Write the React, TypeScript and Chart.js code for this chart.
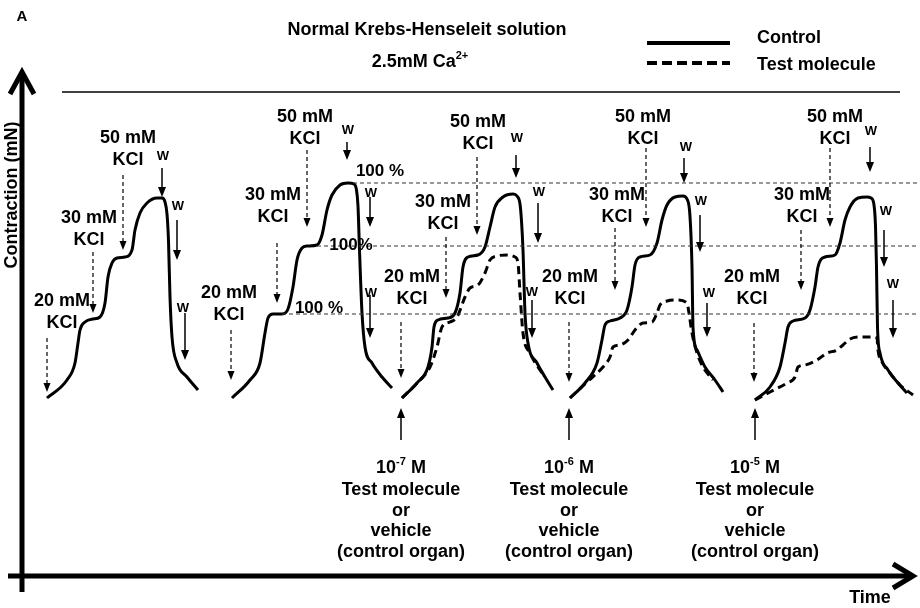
import React, { useEffect, useRef } from "react";
import { Chart, registerables } from "chart.js";

Chart.register(...registerables);

type P = [number, number];

// Time (x) vs contraction (y), schematic units; origin at axes crossing
const control1: P[] = [[25,178],[45,196],[53,213],[56,233],[58,246],[63,254],[71,257],[78,259],[83,273],[86,299],[90,313],[95,318],[103,319],[110,326],[113,346],[118,363],[125,373],[135,378],[140,378],[143,374],[145,362],[146.5,335],[148,279],[150,239],[155,213],[165,199],[176,186]];
const control2: P[] = [[210,178],[228,196],[238,213],[243,243],[246,258],[251,262],[260,262],[266,267],[271,289],[275,316],[280,328],[285,330],[295,331],[300,341],[305,366],[310,381],[318,391],[326,393],[332,392],[334.5,386],[336,370],[337.5,326],[340,263],[343,229],[350,213],[360,199],[370,188]];
const control3: P[] = [[380,178],[395,193],[406,209],[410,229],[412,249],[416,256],[426,258],[433,263],[438,283],[441,309],[446,319],[456,321],[463,329],[468,349],[473,369],[481,379],[491,382],[495,380],[498,372],[499.5,355],[501,326],[503,263],[506,233],[515,213],[523,199],[531,186]];
const test3: P[] = [[380,178],[395,193],[408,209],[415,229],[420,249],[428,254],[435,259],[443,279],[448,288],[456,291],[463,303],[468,316],[475,320],[485,321],[493,319],[496,313],[498,283],[501,243],[508,223],[516,209],[523,199]];
const control4: P[] = [[548,178],[563,193],[575,213],[580,236],[583,251],[588,255],[598,258],[605,266],[610,289],[613,311],[618,319],[628,321],[635,333],[640,356],[645,371],[653,379],[661,380],[665,377],[667.5,366],[669,340],[670,309],[671,249],[675,226],[683,209],[693,196],[701,184]];
const test4: P[] = [[548,178],[565,194],[581,209],[588,219],[591,229],[598,231],[606,236],[613,246],[621,253],[630,254],[635,263],[638,271],[645,275],[655,276],[665,273],[667,263],[670,243],[675,223],[681,209],[691,196]];
const control5: P[] = [[733,176],[748,189],[758,209],[763,233],[766,249],[771,255],[783,258],[788,266],[793,289],[796,309],[803,319],[813,321],[818,333],[823,356],[828,369],[836,378],[845,379],[849,378],[852,371],[853.5,350],[854.5,309],[855.5,249],[858,223],[866,206],[876,193],[885,183]];
const test5: P[] = [[733,176],[748,184],[765,193],[773,199],[776,209],[783,211],[795,216],[805,223],[815,226],[821,231],[828,237],[838,239],[850,239],[855,238],[856,226],[860,214],[868,203],[878,191],[891,181]];

const controlSeries = [control1, control2, control3, control4, control5];
const testSeries = [test3, test4, test5];

// 100 % reference levels (from the second control trace)
const refLevels = [393, 330, 262];
const refStarts = [331, 295, 260];
const refEnd = 896;
const refLabels = ["100 %", "100%", "100 %"];
const refLabelX = [358, 329, 297];
const refLabelY = [405, 331, 268];

// KCl additions: concentration, label position, arrow x / from / to
const kclConc = ["20 mM", "30 mM", "50 mM"];
const kclLabelX = [[40, 67, 106], [207, 251, 283], [390, 421, 456], [548, 595, 621], [730, 780, 813]];
const kclLabelY = [[275, 358, 438], [283, 381, 459], [299, 374, 454], [299, 381, 459], [299, 381, 459]];
const kclArrowX = [[25, 71, 101], [209, 255, 285], [379, 424, 455], [547, 593, 624], [732, 779, 808]];
const kclArrowFrom = [[238, 324, 401], [246, 333, 426], [254, 339, 419], [254, 348, 428], [253, 346, 428]];
const kclArrowTo = [[184, 263, 326], [196, 273, 349], [198, 278, 341], [194, 286, 349], [194, 286, 349]];

// Washout (W) marks
const wLabelX = [[141, 156, 161], [326, 349, 349], [495, 517, 510], [664, 679, 687], [849, 864, 871]];
const wLabelY = [[420, 370, 268], [446, 383, 283], [438, 384, 284], [429, 375, 283], [445, 365, 292]];
const wArrowX = [[140, 155, 163], [325, 348, 348], [494, 516, 510], [662, 678, 685], [848, 862, 871]];
const wArrowFrom = [[408, 356, 263], [434, 379, 281], [421, 373, 276], [418, 361, 273], [429, 346, 276]];
const wArrowTo = [[379, 316, 216], [416, 349, 238], [398, 333, 238], [393, 324, 239], [404, 309, 238]];

// Test molecule additions
const doseExp = ["-7", "-6", "-5"];
const doseX = [379, 547, 733];
const doseArrowFrom = 136;
const doseArrowTo = 168;
const doseLines = ["Test molecule", "or", "vehicle", "(control organ)"];
const doseLineY = [108, 86, 65, 45, 24];

const FONT = "'Liberation Sans', Arial, Helvetica, sans-serif";

function vArrow(ctx: CanvasRenderingContext2D, x: number, y1: number, y2: number, dashed: boolean, lw: number, hw: number, hl: number) {
  const dir = Math.sign(y2 - y1);
  ctx.save();
  ctx.strokeStyle = "#000";
  ctx.fillStyle = "#000";
  ctx.lineWidth = lw;
  if (dashed) ctx.setLineDash([4, 3]);
  ctx.beginPath();
  ctx.moveTo(x, y1);
  ctx.lineTo(x, y2 - dir * hl);
  ctx.stroke();
  ctx.setLineDash([]);
  ctx.beginPath();
  ctx.moveTo(x, y2);
  ctx.lineTo(x - hw / 2, y2 - dir * hl);
  ctx.lineTo(x + hw / 2, y2 - dir * hl);
  ctx.closePath();
  ctx.fill();
  ctx.restore();
}

type Seg = { t: string; sup?: boolean };

function richText(ctx: CanvasRenderingContext2D, segs: Seg[], cx: number, cy: number, size: number) {
  const big = `bold ${size}px ${FONT}`;
  const small = `bold ${Math.round(size * 0.6)}px ${FONT}`;
  let total = 0;
  const widths = segs.map((s) => {
    ctx.font = s.sup ? small : big;
    const w = ctx.measureText(s.t).width;
    total += w;
    return w;
  });
  let x = cx - total / 2;
  ctx.textAlign = "left";
  ctx.textBaseline = "middle";
  segs.forEach((s, i) => {
    ctx.font = s.sup ? small : big;
    ctx.fillText(s.t, x, s.sup ? cy - size * 0.35 : cy);
    x += widths[i];
  });
}

function text(ctx: CanvasRenderingContext2D, t: string, x: number, y: number, size: number, align: CanvasTextAlign = "center") {
  ctx.font = `bold ${size}px ${FONT}`;
  ctx.textAlign = align;
  ctx.textBaseline = "middle";
  ctx.fillText(t, x, y);
}

const overlay = {
  id: "overlay",
  afterDatasetsDraw(chart: any) {
    const ctx: CanvasRenderingContext2D = chart.ctx;
    const X = (v: number) => chart.scales.x.getPixelForValue(v);
    const Y = (v: number) => chart.scales.y.getPixelForValue(v);
    ctx.save();
    ctx.fillStyle = "#000";
    ctx.strokeStyle = "#000";

    // axes with open arrowheads
    ctx.lineWidth = 5;
    ctx.lineJoin = "miter";
    ctx.beginPath();
    ctx.moveTo(X(0), Y(-16));
    ctx.lineTo(X(0), Y(504));
    ctx.stroke();
    ctx.beginPath();
    ctx.moveTo(X(0) - 12, Y(506) + 24);
    ctx.lineTo(X(0), Y(506) + 2);
    ctx.lineTo(X(0) + 12, Y(506) + 24);
    ctx.stroke();
    ctx.beginPath();
    ctx.moveTo(X(-14), Y(0));
    ctx.lineTo(X(891), Y(0));
    ctx.stroke();
    ctx.beginPath();
    ctx.moveTo(X(893) - 22, Y(0) - 12);
    ctx.lineTo(X(893) - 2, Y(0));
    ctx.lineTo(X(893) - 22, Y(0) + 12);
    ctx.stroke();

    // thin separator rule
    ctx.lineWidth = 1.3;
    ctx.beginPath();
    ctx.moveTo(X(40), Y(484));
    ctx.lineTo(X(878), Y(484));
    ctx.stroke();

    // header
    text(ctx, "A", X(0), Y(559), 15);
    text(ctx, "Normal Krebs-Henseleit solution", X(405), Y(546), 18);
    richText(ctx, [{ t: "2.5mM Ca" }, { t: "2+", sup: true }], X(398), Y(514), 18);

    // legend
    ctx.lineWidth = 4;
    ctx.beginPath();
    ctx.moveTo(X(625), Y(533));
    ctx.lineTo(X(708), Y(533));
    ctx.stroke();
    ctx.setLineDash([10, 5]);
    ctx.beginPath();
    ctx.moveTo(X(625), Y(513));
    ctx.lineTo(X(708), Y(513));
    ctx.stroke();
    ctx.setLineDash([]);
    text(ctx, "Control", X(735), Y(538), 18, "left");
    text(ctx, "Test molecule", X(735), Y(511), 18, "left");

    // axis titles
    ctx.save();
    ctx.translate(X(-10), Y(381));
    ctx.rotate(-Math.PI / 2);
    text(ctx, "Contraction (mN)", 0, 0, 18);
    ctx.restore();
    text(ctx, "Time", X(848), Y(-22), 18);

    // KCl additions and washouts
    for (let b = 0; b < kclLabelX.length; b++) {
      for (let k = 0; k < 3; k++) {
        text(ctx, kclConc[k], X(kclLabelX[b][k]), Y(kclLabelY[b][k]), 18);
        text(ctx, "KCl", X(kclLabelX[b][k]), Y(kclLabelY[b][k] - 22), 18);
        vArrow(ctx, X(kclArrowX[b][k]), Y(kclArrowFrom[b][k]), Y(kclArrowTo[b][k]), true, 1.2, 7, 9);
        text(ctx, "W", X(wLabelX[b][k]), Y(wLabelY[b][k]), 13);
        vArrow(ctx, X(wArrowX[b][k]), Y(wArrowFrom[b][k]), Y(wArrowTo[b][k]), false, 1.5, 8, 10);
      }
    }

    // 100 % labels
    refLabels.forEach((l, i) => text(ctx, l, X(refLabelX[i]), Y(refLabelY[i]), 17));

    // test molecule additions
    doseX.forEach((dx, i) => {
      vArrow(ctx, X(dx), Y(doseArrowFrom), Y(doseArrowTo), false, 1.5, 8, 10);
      richText(ctx, [{ t: "10" }, { t: doseExp[i], sup: true }, { t: " M" }], X(dx), Y(doseLineY[0]), 18);
      doseLines.forEach((l, j) => text(ctx, l, X(dx), Y(doseLineY[j + 1]), 18));
    });

    ctx.restore();
  },
};

export default function App() {
  const ref = useRef<HTMLCanvasElement | null>(null);
  useEffect(() => {
    document.body.style.margin = "0";
    if (!ref.current) return;
    const toPts = (a: P[]) => a.map(([x, y]) => ({ x, y }));
    const datasets: any[] = [];
    refLevels.forEach((lv, i) => {
      datasets.push({
        data: [{ x: refStarts[i], y: lv }, { x: refEnd, y: lv }],
        borderColor: "#333",
        borderWidth: 1.2,
        borderDash: [4, 3],
        pointRadius: 0,
        tension: 0,
      });
    });
    testSeries.forEach((s) => {
      datasets.push({
        data: toPts(s),
        borderColor: "#000",
        borderWidth: 3,
        borderDash: [8, 5],
        pointRadius: 0,
        cubicInterpolationMode: "monotone",
      });
    });
    controlSeries.forEach((s) => {
      datasets.push({
        data: toPts(s),
        borderColor: "#000",
        borderWidth: 3,
        pointRadius: 0,
        cubicInterpolationMode: "monotone",
      });
    });
    const chart = new Chart(ref.current, {
      type: "line",
      data: { datasets },
      options: {
        animation: false,
        responsive: false,
        events: [],
        layout: { padding: 0 },
        plugins: { legend: { display: false }, tooltip: { enabled: false } },
        scales: {
          x: { type: "linear", min: -22, max: 898, display: false },
          y: { type: "linear", min: -32, max: 576, display: false },
        },
      },
      plugins: [overlay],
    });
    return () => chart.destroy();
  }, []);
  return (
    <div style={{ width: 920, height: 608, background: "#fff" }}>
      <canvas ref={ref} width={920} height={608} style={{ display: "block" }} />
    </div>
  );
}
